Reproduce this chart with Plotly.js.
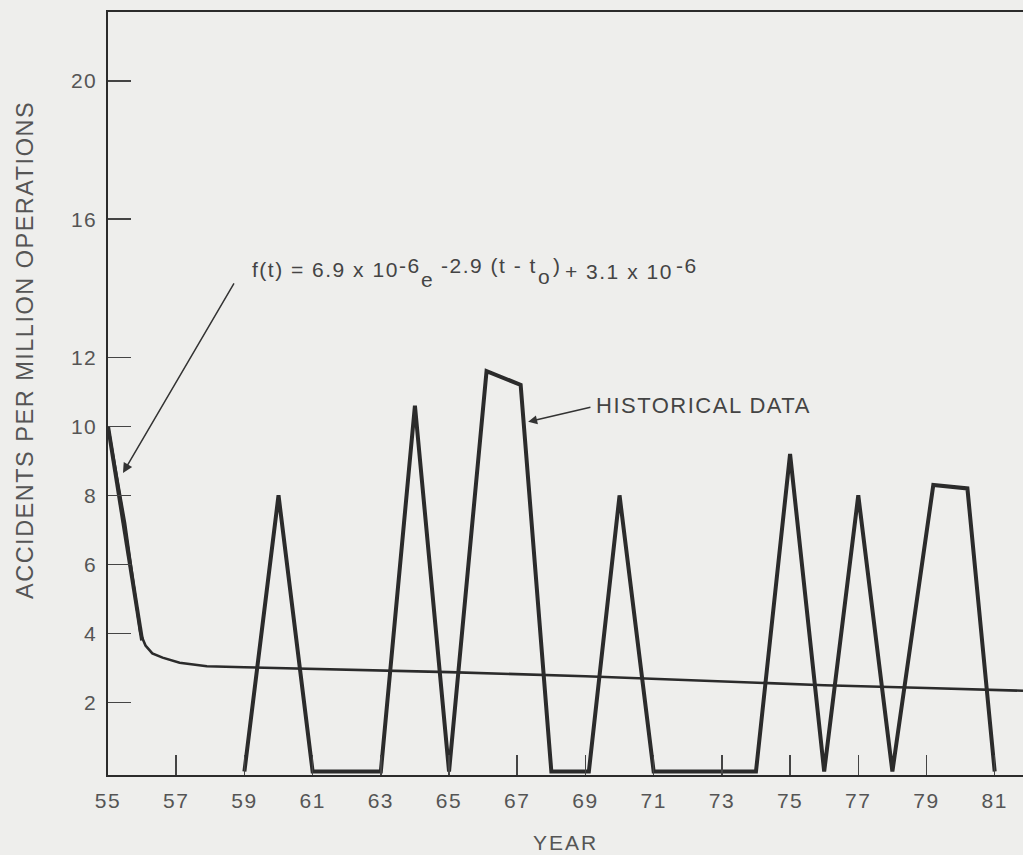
<!DOCTYPE html>
<html>
<head>
<meta charset="utf-8">
<script src="https://cdn.plot.ly/plotly-3.0.1.min.js"></script>
<style>
html,body{margin:0;padding:0;background:#eeeeec;}
#chart{width:1023px;height:855px;}
.xtick text,.ytick text{letter-spacing:1.5px;}
.xtitle{letter-spacing:2px;}
.annotation-text{letter-spacing:1.5px;}
</style>
</head>
<body>
<div id="chart"></div>
<script>
// Fitted curve f(t)
var fitYears = [55, 55.5, 55.95, 56.1, 56.3, 56.6, 57.1, 57.9, 59, 61, 65, 69, 72.3, 76, 79, 81.83];
var fitValues = [10.0, 7.2, 4.0, 3.65, 3.42, 3.3, 3.15, 3.05, 3.02, 2.98, 2.88, 2.76, 2.63, 2.5, 2.42, 2.34];

// Historical data
var histYears = [55, 56.0, null, 59, 60, 61, 63, 64, 65, 66.1, 67.1, 68, 69.1, 70, 71, 74, 75, 76, 77, 78, 79.2, 80.2, 81];
var histValues = [10.0, 3.8, null, 0, 8.0, 0, 0, 10.6, 0, 11.6, 11.2, 0, 0, 8.0, 0, 0, 9.2, 0, 8.0, 0, 8.3, 8.2, 0];

var xTickVals = [55, 57, 59, 61, 63, 65, 67, 69, 71, 73, 75, 77, 79, 81];
var xTickText = ['55', '57', '59', '61', '63', '65', '67', '69', '71', '73', '75', '77', '79', '81'];
var yTickVals = [2, 4, 6, 8, 10, 12, 16, 20];
var yTickText = ['2', '4', '6', '8', '10', '12', '16', '20'];

// Formula pieces (set at different baselines like the original typesetting)
var formulaPieces = ['f(t) = 6.9 x 10', '-6', 'e', '-2.9 (t - t', 'o', ')', '+ 3.1 x 10', '-6'];

var lineColor = '#2b2b2b';
var textColor = '#555555';
var annColor = '#444444';
var font = 'Liberation Sans, Arial, Helvetica, sans-serif';

// pixel helpers for label placement
var W = 1023, H = 855, ML = 108, MR = 0, MT = 12, MB = 80;
function px2paperX(px) { return (px - ML) / (W - ML - MR); }
function px2paperY(py) { return (H - MB - py) / (H - MT - MB); }

var formulaSize = 21, spacing = 1.5;
var canvas = document.createElement('canvas');
var ctx = canvas.getContext('2d');
ctx.font = formulaSize + 'px "Liberation Sans"';
function textWidth(s) { return ctx.measureText(s).width + s.length * spacing; }

var formulaGapAfter = [0, 1, 6, 1, 2, 4, 3, 0];
var formulaMid = [269, 265, 279, 265, 276, 265, 271, 265];
var cursor = 252;

var annotations = [];
for (var i = 0; i < formulaPieces.length; i++) {
  annotations.push({
    x: px2paperX(cursor), y: px2paperY(formulaMid[i]), xref: 'paper', yref: 'paper',
    xanchor: 'left', yanchor: 'middle', showarrow: false, text: formulaPieces[i],
    borderpad: 0, borderwidth: 0,
    font: {size: formulaSize, color: annColor, family: font}
  });
  cursor += textWidth(formulaPieces[i]) + formulaGapAfter[i];
}
annotations.push(
  {x: 55.44, y: 8.65, xref: 'x', yref: 'y', axref: 'x', ayref: 'y', ax: 58.72, ay: 14.18,
   text: '', showarrow: true, arrowhead: 2, arrowsize: 1.3, arrowwidth: 1.5, arrowcolor: '#333'},
  {x: px2paperX(596), y: px2paperY(405), xref: 'paper', yref: 'paper', xanchor: 'left', yanchor: 'middle',
   showarrow: false, text: 'HISTORICAL DATA', borderpad: 0, borderwidth: 0,
   font: {size: 22, color: annColor, family: font}},
  {x: 67.32, y: 10.13, xref: 'x', yref: 'y', axref: 'x', ayref: 'y', ax: 69.19, ay: 10.56,
   text: '', showarrow: true, arrowhead: 2, arrowsize: 1.2, arrowwidth: 1.5, arrowcolor: '#333'},
  {x: px2paperX(25), y: px2paperY(350), xref: 'paper', yref: 'paper', xanchor: 'center', yanchor: 'middle',
   textangle: -90, showarrow: false, text: 'ACCIDENTS PER MILLION OPERATIONS',
   font: {size: 23.5, color: textColor, family: font}}
);

var traces = [
  {x: fitYears, y: fitValues, mode: 'lines', type: 'scatter', name: 'f(t)',
   line: {color: lineColor, width: 2.6}, hoverinfo: 'skip'},
  {x: histYears, y: histValues, mode: 'lines', type: 'scatter', name: 'Historical data',
   line: {color: lineColor, width: 4}, connectgaps: false, hoverinfo: 'skip'}
];

var layout = {
  width: W, height: H,
  margin: {l: ML, r: MR, t: MT, b: MB},
  paper_bgcolor: '#eeeeec', plot_bgcolor: '#eeeeec',
  showlegend: false,
  font: {family: font, color: textColor, size: 20},
  xaxis: {
    range: [55, 81.83], tickvals: xTickVals, ticktext: xTickText,
    ticks: 'inside', ticklen: 20, tickwidth: 1.5, tickcolor: '#444',
    showline: true, linecolor: lineColor, linewidth: 2, mirror: true,
    showgrid: false, zeroline: false, ticklabelstandoff: 6,
    tickfont: {size: 21, color: textColor, family: font},
    title: {text: 'YEAR', font: {size: 21, color: textColor, family: font}, standoff: 24}
  },
  yaxis: {
    range: [-0.1, 22], tickvals: yTickVals, ticktext: yTickText,
    ticks: 'inside', ticklen: 23, tickwidth: 1.5, tickcolor: '#444',
    showline: true, linecolor: lineColor, linewidth: 2.5,
    showgrid: false, zeroline: false, ticklabelstandoff: 4,
    tickfont: {size: 21, color: textColor, family: font}
  },
  annotations: annotations
};

Plotly.newPlot('chart', traces, layout, {displayModeBar: false, staticPlot: true});
</script>
</body>
</html>
